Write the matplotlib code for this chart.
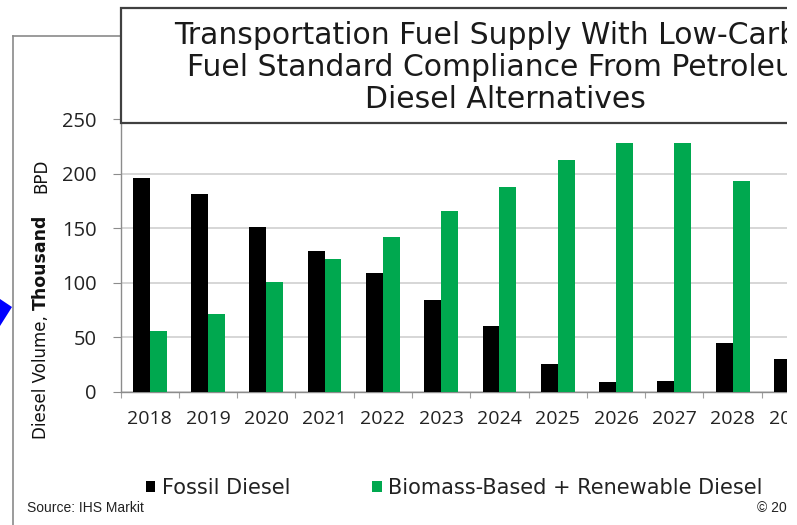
import matplotlib
matplotlib.use("Agg")
import matplotlib.pyplot as plt
import numpy as np
from matplotlib.patches import Rectangle, Polygon
from matplotlib.lines import Line2D

years = ["2018", "2019", "2020", "2021", "2022", "2023", "2024", "2025", "2026", "2027", "2028", "2029"]
fossil = [196, 181, 151, 129, 109, 84, 60, 25, 9, 10, 45, 30]
biomass = [56, 71, 101, 122, 142, 166, 188, 213, 228, 228, 193, np.nan]
title_lines = ["Transportation Fuel Supply With Low-Carbon",
               "Fuel Standard Compliance From Petroleum",
               "Diesel Alternatives"]

W, H = 797, 525
plt.rcParams["font.family"] = ["Open Sans", "DejaVu Sans"]

fig = plt.figure(figsize=(W / 100, H / 100), dpi=100)


def fx(px):
    return px / W


def fy(py):
    return 1 - py / H


# axes run past the right edge (the chart is cropped there)
left_px, right_px = 120.5, 120.5 + 12 * 58.3
top_px, bot_px = 119.2, 391.7
ax = fig.add_axes([fx(left_px), fy(bot_px), fx(right_px - left_px), (bot_px - top_px) / H])

x = np.arange(len(years))
w = 0.29
ax.bar(x - w / 2, fossil, w, color="black", label="Fossil Diesel", zorder=3)
ax.bar(x + w / 2, biomass, w, color="#00A84F", label="Biomass-Based + Renewable Diesel", zorder=3)

ax.set_xlim(-0.5, len(years) - 0.5)
ax.set_ylim(0, 250)
ax.set_yticks(range(0, 251, 50))
ax.set_xticks(x)
ax.set_xticklabels(years)
ax.set_xticks(np.arange(-0.5, len(years), 1), minor=True)
ax.yaxis.grid(True, color="#CFCFCF", lw=1.2, zorder=0)
ax.set_axisbelow(True)

for s in ["top", "right"]:
    ax.spines[s].set_visible(False)
for s in ["left", "bottom"]:
    ax.spines[s].set_color("#8C8C8C")
    ax.spines[s].set_linewidth(1.0)

ax.tick_params(axis="x", which="major", length=0, pad=13, labelsize=14, labelcolor="#222222")
ax.tick_params(axis="x", which="minor", length=4, color="#A0A0A0", width=0.8)
ax.tick_params(axis="y", length=6, color="#8C8C8C", pad=11, labelsize=14.5, labelcolor="#222222")

# title box
fig.patches.append(Rectangle((fx(121), fy(123)), fx(700), (123 - 8) / H, transform=fig.transFigure,
                             facecolor="white", edgecolor="#404040", lw=1.6, zorder=5))
for i, line in enumerate(title_lines):
    fig.text(fx(505), fy(43.5 + i * 32.4), line, ha="center", va="baseline",
             fontsize=21.5, family=["DejaVu Sans"], color="#1a1a1a", zorder=6)

# outer gray frame
fig.add_artist(Line2D([fx(13), fx(121)], [fy(36), fy(36)], color="#8A8A8A", lw=1.2, zorder=4))
fig.add_artist(Line2D([fx(13), fx(13)], [fy(36), fy(530)], color="#8A8A8A", lw=1.2, zorder=4))

# blue arrow head at the left edge
fig.patches.append(Polygon([(fx(0), fy(299)), (fx(12), fy(307)), (fx(0), fy(326))], closed=True,
                           transform=fig.transFigure, facecolor="#0000FF", edgecolor="none", zorder=4))

# y label with mixed styles, baseline anchored, built bottom to top
fig.canvas.draw()
renderer = fig.canvas.get_renderer()
ypos = 439
for txt, size, weight, gap in [("Diesel Volume,", 12, "normal", 5),
                               ("Thousand", 12.5, "bold", 22),
                               ("BPD", 12, "normal", 0)]:
    t = fig.text(fx(46), fy(ypos), txt, rotation=90, rotation_mode="anchor", ha="left", va="baseline",
                 fontsize=size, fontweight=weight, family=["DejaVu Sans"], color="#111111")
    bb = t.get_window_extent(renderer)
    ypos -= bb.height + gap

# legend
fig.legend(loc="center left", bbox_to_anchor=(fx(146), fy(488)), ncol=2, frameon=False,
           prop={"family": ["DejaVu Sans"], "size": 15}, handlelength=0.45, handleheight=0.45,
           handletextpad=0.3, columnspacing=3.95, borderpad=0, borderaxespad=0, labelcolor="#222222")

fig.text(fx(27), fy(512), "Source: IHS Markit", fontsize=10, family=["Liberation Sans"], color="#222222")
fig.text(fx(757), fy(512), "\u00a9 2019 IHS Markit", fontsize=10, family=["Liberation Sans"], color="#222222")

# crop edge on the right
fig.patches.append(Rectangle((fx(787), 0), fx(20), 1, transform=fig.transFigure,
                             facecolor="white", edgecolor="none", zorder=20))

fig.savefig("out.png", dpi=100)
